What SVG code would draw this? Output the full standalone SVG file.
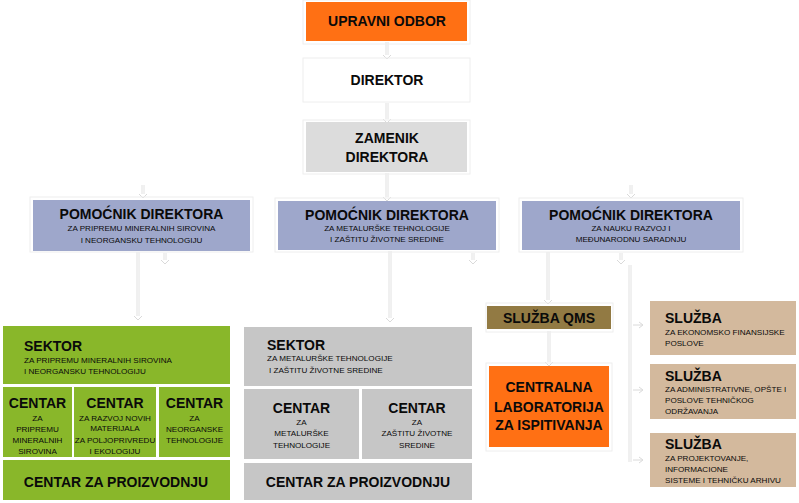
<svg xmlns="http://www.w3.org/2000/svg" width="799" height="503" viewBox="0 0 799 503">
<style>
text{font-family:"Liberation Sans",Arial,sans-serif;fill:#0A0A0A;}
.t{font-weight:bold;font-size:14px;}
.tp{font-weight:bold;font-size:14px;}
.s{font-size:8.1px;}
.c{text-anchor:middle;}
.frame{fill:none;stroke:#EEEEEE;stroke-width:1;}
.co{fill:none;stroke:#E2E2E2;stroke-width:3;}
.ci{fill:none;stroke:#FFFFFF;stroke-width:1;}
.ah{fill:none;stroke:#DADADA;stroke-width:1;}
</style>
<rect width="799" height="503" fill="#FFFFFF"/>
<g id="connectors">
  <path class="co" d="M387 42V55 M387 103V119 M387 173V197 M143 185V194 M631 185V194 M138 252V316 M165 253V260 M390 251V318 M473 253V260 M548 252V300 M621 253V260 M630 265V462 M549 331V362"/>
  <path class="ci" d="M387 42V55 M387 103V119 M387 173V197 M143 185V194 M631 185V194 M138 252V316 M165 253V260 M390 251V318 M473 253V260 M548 252V300 M621 253V260 M630 265V462 M549 331V362"/>
  <path class="ah" d="M383 55L387 59L391 55 M383 119L387 123L391 119 M383 197L387 201L391 197 M139 194L143 198L147 194 M627 194L631 198L635 194 M134 316L138 320L142 316 M161 260L165 264L169 260 M386 318L390 322L394 318 M469 260L473 264L477 260 M544 300L548 304L552 300 M617 260L621 264L625 260 M545 362L549 366L553 362"/>
  <path class="ah" d="M633 325H642 M639 322L643 325L639 328 M633 390H642 M639 387L643 390L639 393 M633 460H642 M639 457L643 460L639 463"/>
</g>
<g id="upravni-odbor">
  <rect class="frame" x="303" y="0" width="167" height="44"/>
  <rect x="306" y="2" width="161" height="39" fill="#FF7014"/>
  <text class="t c" x="387" y="26">UPRAVNI ODBOR</text>
</g>
<g id="direktor">
  <rect class="frame" x="303" y="58" width="167" height="44"/>
  <rect x="306" y="60" width="161" height="40" fill="#FFFFFF"/>
  <text class="t c" x="387" y="85">DIREKTOR</text>
</g>
<g id="zamenik">
  <rect class="frame" x="303" y="120" width="167" height="54"/>
  <rect x="306" y="122" width="161" height="50" fill="#DCDCDC"/>
  <text class="t c" x="387" y="143">ZAMENIK</text>
  <text class="t c" x="387" y="162">DIREKTORA</text>
</g>
<g id="pomocnik-1">
  <rect class="frame" x="30" y="197" width="223" height="55"/>
  <rect x="33" y="200" width="217" height="51" fill="#9EA7CB"/>
  <text class="tp c" x="141.5" y="219">POMOĆNIK DIREKTORA</text>
  <text class="s c" x="141.5" y="230.9">ZA PRIPREMU MINERALNIH SIROVINA</text>
  <text class="s c" x="141.5" y="242.9">I NEORGANSKU TEHNOLOGIJU</text>
</g>
<g id="pomocnik-2">
  <rect class="frame" x="275" y="198" width="224" height="54"/>
  <rect x="278" y="201" width="218" height="49" fill="#9EA7CB"/>
  <text class="tp c" x="387" y="219.5">POMOĆNIK DIREKTORA</text>
  <text class="s c" x="387" y="230.9">ZA METALURŠKE TEHNOLOGIJE</text>
  <text class="s c" x="387" y="241.9">I ZAŠTITU ŽIVOTNE SREDINE</text>
</g>
<g id="pomocnik-3">
  <rect class="frame" x="519" y="198" width="224" height="54"/>
  <rect x="522" y="201" width="218" height="49" fill="#9EA7CB"/>
  <text class="tp c" x="631" y="219.5">POMOĆNIK DIREKTORA</text>
  <text class="s c" x="631" y="230.9">ZA NAUKU RAZVOJ I</text>
  <text class="s c" x="631" y="241.9">MEĐUNARODNU SARADNJU</text>
</g>
<g id="sektor-zeleni">
  <rect x="3" y="326" width="227" height="58" fill="#89B72A"/>
  <text class="t" x="24" y="351">SEKTOR</text>
  <text class="s" x="24" y="362.9">ZA PRIPREMU MINERALNIH SIROVINA</text>
  <text class="s" x="24" y="373.9">I NEORGANSKU TEHNOLOGIJU</text>
</g>
<g id="centar-z1">
  <rect x="3" y="387" width="69" height="70" fill="#89B72A"/>
  <text class="t c" x="37.5" y="408">CENTAR</text>
  <text class="s c" x="37.5" y="420.9">ZA</text>
  <text class="s c" x="37.5" y="431.9">PRIPREMU</text>
  <text class="s c" x="37.5" y="442.9">MINERALNIH</text>
  <text class="s c" x="37.5" y="453.9">SIROVINA</text>
</g>
<g id="centar-z2">
  <rect x="74" y="387" width="82" height="70" fill="#89B72A"/>
  <text class="t c" x="115" y="408">CENTAR</text>
  <text class="s c" x="115" y="420.9">ZA RAZVOJ NOVIH</text>
  <text class="s c" x="115" y="431.4">MATERIJALA</text>
  <text class="s c" x="115" y="442.9">ZA POLJOPRIVREDU</text>
  <text class="s c" x="115" y="453.9">I EKOLOGIJU</text>
</g>
<g id="centar-z3">
  <rect x="159" y="387" width="71" height="70" fill="#89B72A"/>
  <text class="t c" x="194.5" y="408">CENTAR</text>
  <text class="s c" x="194.5" y="420.9">ZA</text>
  <text class="s c" x="194.5" y="431.9">NEORGANSKE</text>
  <text class="s c" x="194.5" y="442.9">TEHNOLOGIJE</text>
</g>
<g id="proizvodnja-z">
  <rect x="3" y="460" width="227" height="40" fill="#89B72A"/>
  <text class="t c" x="116" y="487">CENTAR ZA PROIZVODNJU</text>
</g>
<g id="sektor-sivi">
  <rect x="244" y="327" width="228" height="59" fill="#C6C6C6"/>
  <text class="t" x="267" y="350">SEKTOR</text>
  <text class="s" x="267" y="360.9">ZA METALURŠKE TEHNOLOGIJE</text>
  <text class="s" x="269" y="372.9">I ZAŠTITU ŽIVOTNE SREDINE</text>
</g>
<g id="centar-s1">
  <rect x="244" y="389" width="115" height="70" fill="#C6C6C6"/>
  <text class="t c" x="301.5" y="413">CENTAR</text>
  <text class="s c" x="301.5" y="424.9">ZA</text>
  <text class="s c" x="301.5" y="435.9">METALURŠKE</text>
  <text class="s c" x="301.5" y="447.9">TEHNOLOGIJE</text>
</g>
<g id="centar-s2">
  <rect x="362" y="389" width="110" height="70" fill="#C6C6C6"/>
  <text class="t c" x="417" y="413">CENTAR</text>
  <text class="s c" x="417" y="424.9">ZA</text>
  <text class="s c" x="417" y="435.9">ZAŠTITU ŽIVOTNE</text>
  <text class="s c" x="417" y="447.9">SREDINE</text>
</g>
<g id="proizvodnja-s">
  <rect x="244" y="463" width="228" height="37" fill="#C6C6C6"/>
  <text class="t c" x="358" y="487">CENTAR ZA PROIZVODNJU</text>
</g>
<g id="sluzba-qms">
  <rect class="frame" x="486" y="303" width="127" height="29"/>
  <rect x="487" y="306" width="124" height="23" fill="#927A43"/>
  <text class="t c" x="549" y="323">SLUŽBA QMS</text>
</g>
<g id="centralna-laboratorija">
  <rect class="frame" x="486" y="363" width="126" height="88"/>
  <rect x="489" y="366" width="120" height="81" fill="#FF7014"/>
  <text class="t c" x="549" y="392">CENTRALNA</text>
  <text class="t c" x="549" y="412">LABORATORIJA</text>
  <text class="t c" x="549" y="430">ZA ISPITIVANJA</text>
</g>
<g id="sluzba-1">
  <rect x="650" y="301" width="146" height="54" fill="#D3B99D"/>
  <text class="t" x="665" y="323">SLUŽBA</text>
  <text class="s" x="665" y="334.9">ZA EKONOMSKO FINANSIJSKE</text>
  <text class="s" x="665" y="345.9">POSLOVE</text>
</g>
<g id="sluzba-2">
  <rect x="650" y="364" width="146" height="55" fill="#D3B99D"/>
  <text class="t" x="665" y="381">SLUŽBA</text>
  <text class="s" x="665" y="391.9">ZA ADMINISTRATIVNE, OPŠTE I</text>
  <text class="s" x="665" y="402.9">POSLOVE TEHNIČKOG</text>
  <text class="s" x="665" y="413.9">ODRŽAVANJA</text>
</g>
<g id="sluzba-3">
  <rect x="650" y="433" width="146" height="54" fill="#D3B99D"/>
  <text class="t" x="665" y="449">SLUŽBA</text>
  <text class="s" x="665" y="460.9">ZA PROJEKTOVANJE,</text>
  <text class="s" x="665" y="471.9">INFORMACIONE</text>
  <text class="s" x="665" y="482.9">SISTEME I TEHNIČKU ARHIVU</text>
</g>
</svg>
